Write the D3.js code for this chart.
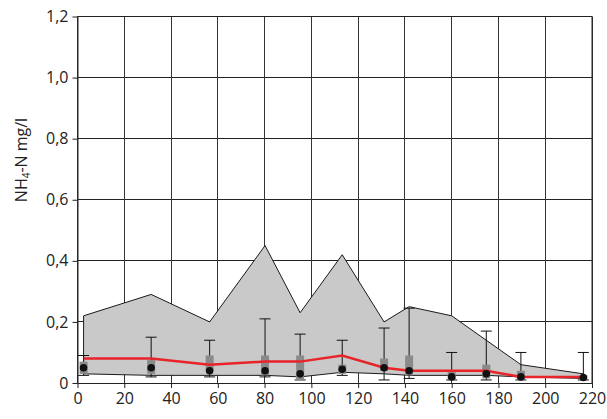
<!DOCTYPE html>
<html>
<head>
<meta charset="utf-8">
<script src="https://cdn.jsdelivr.net/npm/d3@7"></script>
<style>
  html, body { margin: 0; padding: 0; background: #fff; }
  svg { display: block; font-family: "Open Sans", "DejaVu Sans", sans-serif; }
</style>
</head>
<body>
<svg id="chart" width="607" height="419"></svg>
<script>
// Sampling positions (distance) and NH4-N statistics per station, mg/l
const stations = [2.6, 31.5, 56.5, 80.2, 95.2, 113.2, 131.1, 141.8, 160, 174.8, 189.6, 216.3];
const rangeMax = [0.22, 0.29, 0.20, 0.45, 0.23, 0.42, 0.20, 0.25, 0.22, 0.14, 0.06, 0.03];
const rangeMin = [0.03, 0.025, 0.025, 0.025, 0.02, 0.035, 0.03, 0.025, 0.025, 0.025, 0.02, 0.015];
const meanVals = [0.08, 0.08, 0.06, 0.07, 0.07, 0.09, 0.05, 0.04, 0.04, 0.04, 0.02, 0.02];
const medianVals = [0.05, 0.05, 0.04, 0.04, 0.03, 0.045, 0.05, 0.04, 0.02, 0.03, 0.02, 0.018];
const q3Vals = [0.07, 0.075, 0.09, 0.09, 0.09, 0.06, 0.08, 0.09, 0.04, 0.06, 0.04, 0.025];
const q1Vals = [0.03, 0.03, 0.04, 0.025, 0.01, 0.03, 0.04, 0.025, 0.01, 0.015, 0.01, 0.01];
const whiskerHi = [0.09, 0.15, 0.14, 0.21, 0.16, 0.14, 0.18, 0.245, 0.10, 0.17, 0.10, 0.10];
const whiskerLo = [0.025, 0.02, 0.02, 0.02, 0.01, 0.025, 0.01, 0.015, 0.01, 0.01, 0.01, 0.01];
const xTicks = [0, 20, 40, 60, 80, 100, 120, 140, 160, 180, 200, 220];
const yTicks = [0, 0.2, 0.4, 0.6, 0.8, 1.0, 1.2];

const margin = { left: 77.5, top: 16.5 };
const width = 514.5, height = 366.5;

const svg = d3.select("#chart");
const g = svg.append("g").attr("transform", `translate(${margin.left},${margin.top})`);

const x = d3.scaleLinear().domain([0, 220]).range([0, width]);
const y = d3.scaleLinear().domain([0, 1.2]).range([height, 0]);

const fmtY = d => d === 0 ? "0" : d3.format(".1f")(d).replace(".", ",");

// grid
g.append("g").selectAll("line").data(yTicks).join("line")
  .attr("x1", 0).attr("x2", width)
  .attr("y1", d => Math.round(y(d))).attr("y2", d => Math.round(y(d)))
  .attr("stroke", "#222").attr("stroke-width", 1);
g.append("g").selectAll("line").data(xTicks).join("line")
  .attr("y1", 0).attr("y2", height)
  .attr("x1", d => Math.round(x(d))).attr("x2", d => Math.round(x(d)))
  .attr("stroke", "#333").attr("stroke-width", 1);

// min-max envelope
const rows = stations.map((s, i) => ({
  s, hi: rangeMax[i], lo: rangeMin[i], mean: meanVals[i], med: medianVals[i],
  q1: q1Vals[i], q3: q3Vals[i], wHi: whiskerHi[i], wLo: whiskerLo[i]
}));

const area = d3.area().x(d => x(d.s)).y0(d => y(d.lo)).y1(d => y(d.hi));
g.append("path").datum(rows).attr("d", area)
  .attr("fill", "#c8c9c8").attr("stroke", "none");
g.append("path").datum(rows).attr("d", d3.line().x(d => x(d.s)).y(d => y(d.hi)))
  .attr("fill", "none").attr("stroke", "#1a1a1a").attr("stroke-width", 1);
g.append("path").datum(rows).attr("d", d3.line().x(d => x(d.s)).y(d => y(d.lo)))
  .attr("fill", "none").attr("stroke", "#1a1a1a").attr("stroke-width", 1);
// left edge of the envelope
g.append("line")
  .attr("x1", x(rows[0].s)).attr("x2", x(rows[0].s))
  .attr("y1", y(rows[0].hi)).attr("y2", y(rows[0].lo))
  .attr("stroke", "#1a1a1a").attr("stroke-width", 1);

// whiskers
const wk = g.append("g");
wk.selectAll(".stem").data(rows).join("line")
  .attr("x1", d => x(d.s)).attr("x2", d => x(d.s))
  .attr("y1", d => y(d.wHi)).attr("y2", d => y(d.wLo))
  .attr("stroke", "#111").attr("stroke-width", 1);
wk.selectAll(".capHi").data(rows).join("line")
  .attr("x1", d => x(d.s) - 5.5).attr("x2", d => x(d.s) + 5.5)
  .attr("y1", d => y(d.wHi)).attr("y2", d => y(d.wHi))
  .attr("stroke", "#111").attr("stroke-width", 1);
wk.selectAll(".capLo").data(rows).join("line")
  .attr("x1", d => x(d.s) - 5.5).attr("x2", d => x(d.s) + 5.5)
  .attr("y1", d => y(d.wLo)).attr("y2", d => y(d.wLo))
  .attr("stroke", "#111").attr("stroke-width", 1);

// quartile boxes
g.append("g").selectAll("rect").data(rows).join("rect")
  .attr("x", d => x(d.s) - 4).attr("width", 8)
  .attr("y", d => y(d.q3)).attr("height", d => y(d.q1) - y(d.q3))
  .attr("fill", "#8a8a8a");

// mean line
g.append("path").datum(rows).attr("d", d3.line().x(d => x(d.s)).y(d => y(d.mean)))
  .attr("fill", "none").attr("stroke", "#e8232a").attr("stroke-width", 2.5);

// medians
g.append("g").selectAll("circle").data(rows).join("circle")
  .attr("cx", d => x(d.s)).attr("cy", d => y(d.med)).attr("r", 3.8)
  .attr("fill", "#111");

// axes
const xAxis = d3.axisBottom(x).tickValues(xTicks).tickSize(5).tickSizeOuter(0).tickPadding(5);
const gx = g.append("g").attr("transform", `translate(0,${height})`).call(xAxis);
gx.select(".domain").attr("stroke", "#222");
gx.selectAll(".tick line").attr("stroke", "#222");
gx.selectAll("text").attr("font-size", 16).attr("fill", "#222")
  .attr("font-family", "'Open Sans', sans-serif");

const yAxis = d3.axisLeft(y).tickValues(yTicks).tickFormat(fmtY).tickSize(5).tickSizeOuter(0).tickPadding(4);
const gy = g.append("g").call(yAxis);
gy.select(".domain").attr("stroke", "#222");
gy.selectAll(".tick line").attr("stroke", "#222");
gy.selectAll("text").attr("font-size", 16).attr("fill", "#222")
  .attr("font-family", "'Open Sans', sans-serif");

// frame (top and right)
g.append("line").attr("x1", 0).attr("x2", width).attr("y1", 0).attr("y2", 0).attr("stroke", "#222");
g.append("line").attr("x1", width).attr("x2", width).attr("y1", 0).attr("y2", height).attr("stroke", "#222");

// y axis title
const yt = svg.append("text")
  .attr("transform", "translate(27,160) rotate(-90)")
  .attr("text-anchor", "middle")
  .attr("font-size", 16).attr("fill", "#222");
yt.append("tspan").text("NH");
yt.append("tspan").attr("font-size", 10).attr("dy", 3).text("4");
yt.append("tspan").attr("dy", -3).text("-N mg/l");
</script>
</body>
</html>
